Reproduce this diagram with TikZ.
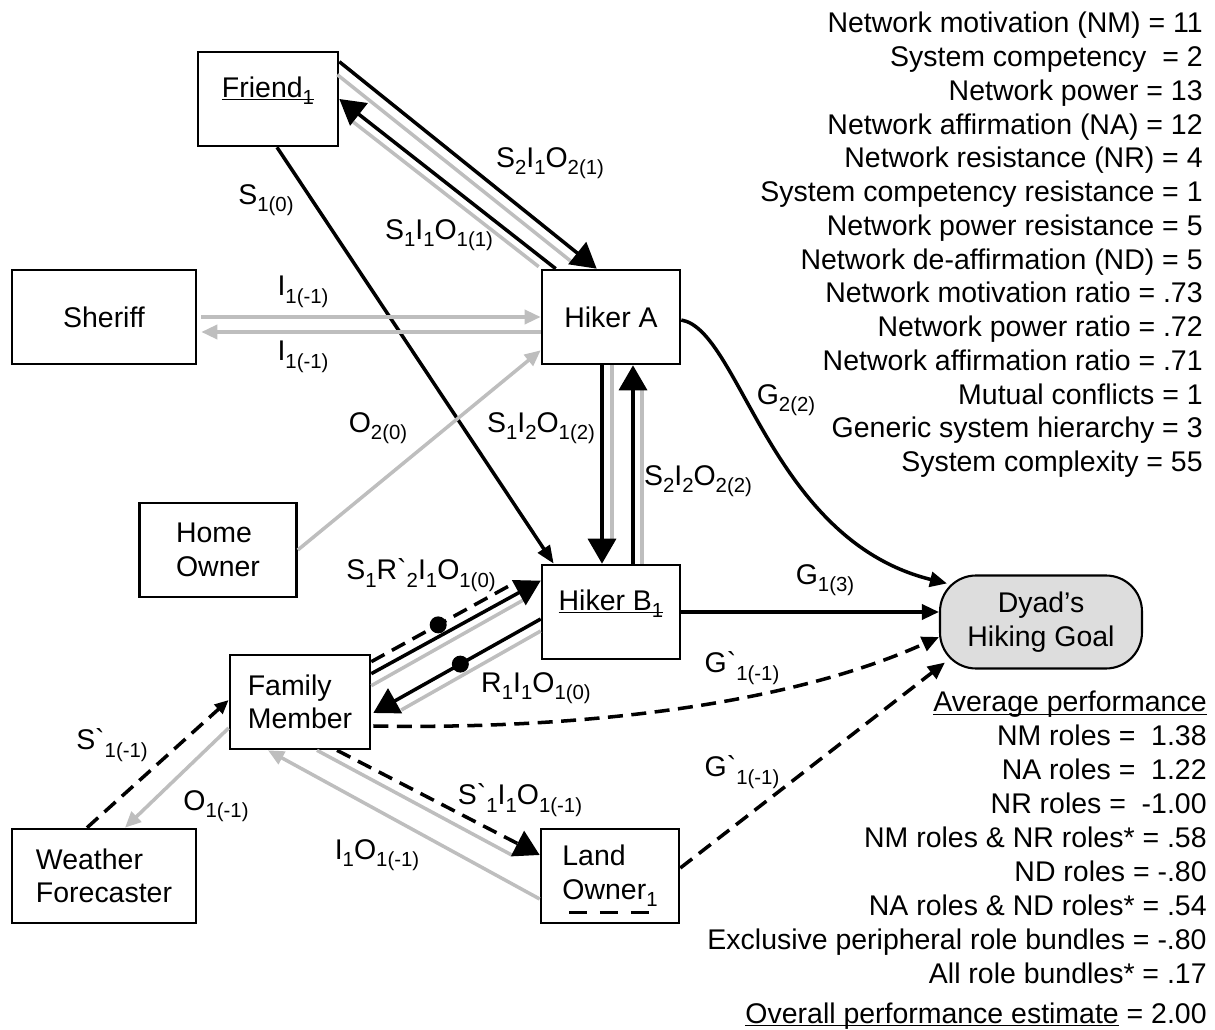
\documentclass[tikz,border=0pt]{standalone}
\usepackage{fontspec}
\setmainfont{Liberation Sans}
\usepackage{tikz}
\usetikzlibrary{calc,arrows.meta}
\definecolor{linegray}{RGB}{190,190,190}
\definecolor{goalfill}{RGB}{221,221,221}
\newcommand{\idx}[1]{\raisebox{-0.26em}{\fontsize{11.6}{12}\selectfont #1}}
\newcommand{\undl}[1]{\underline{\smash{#1}}}
\newcommand{\bq}{{\addfontfeature{Ligatures=TeXOff}\char96}}

\begin{document}
\begin{tikzpicture}[x=0.02cm, y=-0.02cm, font=\fontsize{16.2}{19}\selectfont,
      box/.style={draw, line width=1.5pt, inner sep=0pt, align=center, minimum height=1.88cm},
      goal/.style={draw, line width=1.2pt, fill=goalfill, rounded corners=0.72cm, inner sep=0pt,
        align=center, minimum width=4.04cm, minimum height=1.86cm},
      lbl/.style={inner sep=0pt},
      blk/.style={line width=2pt},
      gry/.style={linegray, line width=2pt},
      dsh/.style={line width=2pt, dash pattern=on 0.3cm off 0.17cm},
      bigtip/.style={-{Triangle[length=0.5cm, width=0.56cm]}},
      midtip/.style={-{Triangle[length=0.34cm, width=0.3cm]}},
      smltip/.style={-{Triangle[length=0.28cm, width=0.24cm]}},
      graytip/.style={-{Triangle[length=0.32cm, width=0.28cm]}},
      dot/.style={circle, fill, inner sep=0pt, minimum size=0.34cm}]
    \useasboundingbox (0,0) rectangle (1215,1030);

    \node[box, minimum width=2.8cm] (F) at (268,99) {\undl{Friend\idx{1}}};
    \node[box, minimum width=3.68cm] (Sh) at (104,317) {Sheriff};
    \node[box, minimum width=2.76cm] (HA) at (611,317) {Hiker A};
    \node[box, minimum width=3.14cm, align=left] (HO) at (218,550) {Home\\Owner};
    \node[box, minimum width=2.76cm] (HB) at (611,612) {\undl{Hiker B\idx{1}}};
    \node[box, minimum width=2.8cm, align=left] (FM) at (300,702) {Family\\Member};
    \node[box, minimum width=3.68cm, align=left] (WF) at (104,876) {Weather\\Forecaster};
    \node[box, minimum width=2.76cm, align=left] (LO) at (610,876) {Land\\Owner\idx{1}};
    \node[goal] (DG) at (1041,622) {Dyad’s\\Hiking Goal};
    \draw[dsh, dash pattern=on 0.36cm off 0.26cm] ($(LO.south)+(-41,-12)$) -- ($(LO.south)+(48,-12)$);

    \draw[gry] ($(F.north east)+(-2,24)$) -- ($(HA.north west)+(32,-6)$);
    \draw[blk, bigtip] ($(F.north east)+(0,11)$) -- ($(HA.north west)+(56,0)$);
    \draw[gry] ($(HA.north west)+(-2,-2)$) -- ($(F.east)+(14,23)$);
    \draw[blk, bigtip] ($(HA.north west)+(15,0)$) -- (F.east);
    \draw[blk, -{Triangle[length=0.36cm, width=0.28cm]}] ($(F.south)+(9,0)$) -- ($(HB.north west)+(13,0)$);

    \draw[gry, graytip] ($(Sh.east)+(4,0)$) -- (HA.west);
    \draw[gry, graytip] ($(HA.west)+(0,15)$) -- ($(Sh.east)+(4,15)$);
    \draw[gry, graytip] (HO.east) -- ($(HA.south west)+(0,-15)$);

    \draw[gry] ($(HA.south)+(1,0)$) -- ($(HB.north)+(1,-20)$);
    \draw[blk, bigtip] ($(HA.south)+(-9,0)$) -- ($(HB.north)+(-9,0)$);
    \draw[gry] ($(HB.north)+(31,0)$) -- ($(HA.south)+(31,25)$);
    \draw[blk, bigtip] ($(HB.north)+(22,0)$) -- ($(HA.south)+(22,0)$);

    \draw[blk, midtip] ($(HA.east)+(0,3)$) .. controls (740,330) and (770,540) .. ($(DG.north west)+(8,9)$);
    \draw[blk, midtip] (HB.east) -- (HB.east -| DG.west);
    \draw[dsh, midtip] ($(FM.east)+(2,24)$) .. controls (600,730) and (800,700) .. ($(DG.west)+(0,15)$);
    \draw[dsh, midtip] ($(LO.east)+(0,-8)$) -- ($(DG.south west)+(6,-7)$);

    \draw[gry] ($(FM.north east)+(0,32)$) -- ($(HB.north west)+(-15,35)$);
    \draw[dsh] ($(FM.north east)+(0,8)$) -- node[dot, pos=0.46] (d1) {} ($(HB.north west)+(-24,18)$);
    \draw[blk, bigtip] ($(FM.north east)+(0,20)$) -- ($(HB.north west)+(0,17)$);
    \draw[gry] ($(HB.west)+(0,19)$) -- ($(FM.east)+(30,8)$);
    \draw[blk, bigtip] ($(HB.west)+(0,7)$) -- node[dot, pos=0.48] (d2) {} ($(FM.east)+(2,11)$);

    \draw[gry] ($(FM.south)+(17,0)$) -- ($(LO.west)+(-28,-21)$);
    \draw[dsh, bigtip] ($(FM.south)+(37,0)$) -- ($(LO.west)+(0,-21)$);
    \draw[gry, graytip] ($(LO.west)+(0,23)$) -- ($(FM.south)+(-32,0)$);
    \draw[dsh, smltip] ($(WF.north)+(-17,0)$) -- ($(FM.west)+(0,-2)$);
    \draw[gry, graytip] ($(FM.west)+(0,26)$) -- ($(WF.north)+(21,0)$);

    \node[lbl] (l1) at (550,163) {S\idx{2}I\idx{1}O\idx{2(1)}};
    \node[lbl] (l2) at (439,235) {S\idx{1}I\idx{1}O\idx{1(1)}};
    \node[lbl] (l3) at (266,200) {S\idx{1(0)}};
    \node[lbl] (l4) at (303,292) {I\idx{1(-1)}};
    \node[lbl] (l5) at (303,357) {I\idx{1(-1)}};
    \node[lbl] (l6) at (378,428) {O\idx{2(0)}};
    \node[lbl] (l7) at (541,428) {S\idx{1}I\idx{2}O\idx{1(2)}};
    \node[lbl] (l8) at (698,481) {S\idx{2}I\idx{2}O\idx{2(2)}};
    \node[lbl] (l9) at (786,400) {G\idx{2(2)}};
    \node[lbl] (l10) at (825,580) {G\idx{1(3)}};
    \node[lbl] (l11) at (742,668) {G\bq\idx{1(-1)}};
    \node[lbl] (l12) at (742,772) {G\bq\idx{1(-1)}};
    \node[lbl] (l13) at (421,575) {S\idx{1}R\bq\idx{2}I\idx{1}O\idx{1(0)}};
    \node[lbl] (l14) at (536,688) {R\idx{1}I\idx{1}O\idx{1(0)}};
    \node[lbl] (l15) at (520,800) {S\bq\idx{1}I\idx{1}O\idx{1(-1)}};
    \node[lbl] (l16) at (377,855) {I\idx{1}O\idx{1(-1)}};
    \node[lbl] (l17) at (112,745) {S\bq\idx{1(-1)}};
    \node[lbl] (l18) at (216,806) {O\idx{1(-1)}};

    \foreach \txt [count=\i from 0] in {Network motivation (NM) = 11, System competency \ = 2,
        Network power = 13, Network affirmation (NA) = 12, Network resistance (NR) = 4,
        System competency resistance = 1, Network power resistance = 5,
        Network de-affirmation (ND) = 5, Network motivation ratio = .73, Network power ratio = .72,
        Network affirmation ratio = .71, Mutual conflicts = 1, Generic system hierarchy = 3,
        System complexity = 55}
      \node[lbl, anchor=base east] (s\i) at (1203,{33+33.75*\i}) {\txt};
    \foreach \txt [count=\i from 0] in {\undl{Average performance}, NM roles = \ 1.38,
        NA roles = \ 1.22, NR roles = \ -1.00, NM roles \& NR roles* = .58, ND roles = -.80,
        NA roles \& ND roles* = .54, Exclusive peripheral role bundles = -.80,
        All role bundles* = .17}
      \node[lbl, anchor=base east] (p\i) at (1207,{712+33.9*\i}) {\txt};
    \node[lbl, anchor=base east] (est) at (1207,1023) {\undl{Overall performance estimate} = 2.00};
  \end{tikzpicture}
\end{document}
